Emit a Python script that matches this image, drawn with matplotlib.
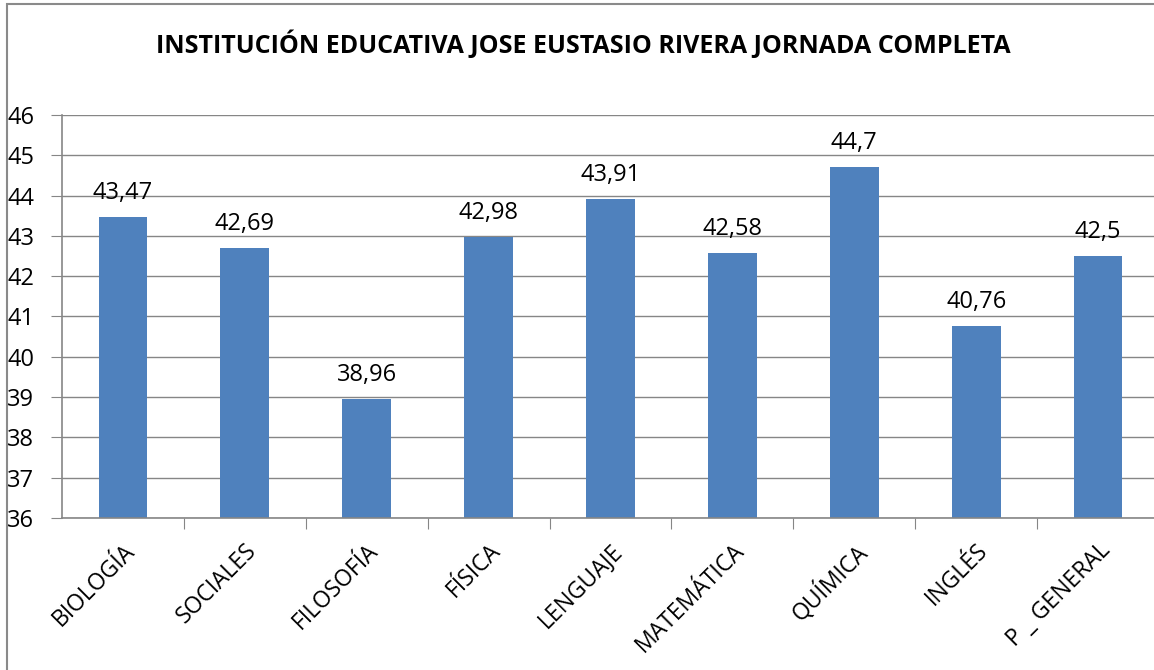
import matplotlib.pyplot as plt
from matplotlib.patches import Rectangle

materias = ["BIOLOGÍA", "SOCIALES", "FILOSOFÍA", "FÍSICA", "LENGUAJE",
            "MATEMÁTICA", "QUÍMICA", "INGLÉS", "P _ GENERAL"]
puntajes = [43.47, 42.69, 38.96, 42.98, 43.91, 42.58, 44.7, 40.76, 42.5]
etiquetas = ["43,47", "42,69", "38,96", "42,98", "43,91", "42,58", "44,7", "40,76", "42,5"]
y_ticks = list(range(36, 47))

plt.rcParams['font.family'] = ['Open Sans', 'DejaVu Sans']

fig = plt.figure(figsize=(11.54, 6.70), dpi=100)
fig.patches.append(Rectangle((7 / 1154, -0.1), 1.2, 0.1 + 666 / 670,
                             transform=fig.transFigure, fill=False,
                             edgecolor="#8a8a8a", linewidth=1.5))

ax = fig.add_axes([62 / 1154, 152 / 670, 1097 / 1154, 403 / 670])
x = list(range(len(materias)))
ax.bar(x, puntajes, width=0.4, color="#4F81BD", zorder=2)

ax.set_xlim(-0.5, len(materias) - 0.5)
ax.set_ylim(36, 46)
ax.set_yticks(y_ticks)
ax.set_yticklabels([str(v) for v in y_ticks])
ax.tick_params(axis="y", labelsize=17, length=8, color="#868686", pad=12)
ax.yaxis.grid(True, color="#868686", linewidth=1, zorder=0)

ax.set_xticks([i + 0.5 for i in x[:-1]], minor=False)
ax.set_xticklabels([])
ax.tick_params(axis="x", length=8, color="#868686")
ax.set_xticks(x, minor=True)
ax.set_xticklabels(materias, minor=True, rotation=45, ha="right", va="top",
                   rotation_mode="anchor", fontsize=16.5)
ax.tick_params(axis="x", which="minor", length=0, pad=15)
for lbl in ax.get_xticklabels(minor=True):
    lbl.set_x(lbl.get_position()[0] - 0.04)

for s in ["top", "right"]:
    ax.spines[s].set_visible(False)
for s in ["left", "bottom"]:
    ax.spines[s].set_color("#868686")
    ax.spines[s].set_linewidth(1.2)

for xi, v, t in zip(x, puntajes, etiquetas):
    ax.annotate(t, (xi, v), xytext=(0, 12), textcoords="offset pixels",
                ha="center", va="bottom", fontsize=17)

fig.text(583 / 1154, 1 - 45 / 670,
         "INSTITUCIÓN EDUCATIVA JOSE EUSTASIO RIVERA JORNADA COMPLETA",
         ha="center", va="center", fontsize=18, fontweight="bold")

fig.savefig("out.png", dpi=100)
